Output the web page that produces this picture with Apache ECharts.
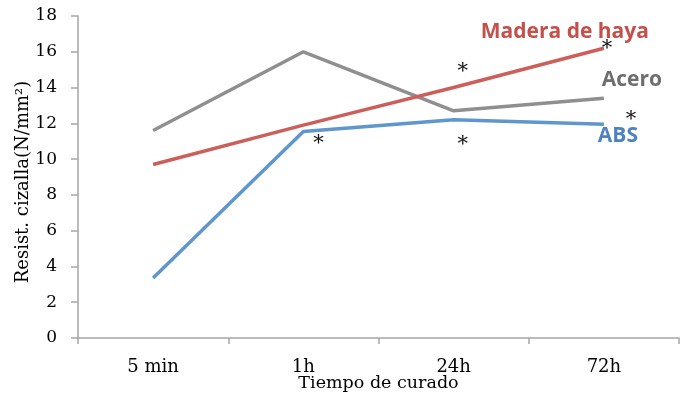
<!DOCTYPE html>
<html><head><meta charset="utf-8">
<script src="https://cdn.jsdelivr.net/npm/echarts@6/dist/echarts.min.js"></script>
<style>html,body{margin:0;padding:0;background:#fff}#c{width:690px;height:398px}</style>
</head><body><div id="c"></div>
<script>
const categories = ['5 min', '1h', '24h', '72h'];
const acero = [11.6, 16.0, 12.7, 13.4];
const madera = [9.7, 11.9, 14.0, 16.2];
const abs = [3.35, 11.55, 12.2, 11.95];
const yTicks = [0, 2, 4, 6, 8, 10, 12, 14, 16, 18];
// asterisk annotations: [category, value, xOffset]
const asterisks = [['1h', 11.0, 15], ['24h', 15.0, 9], ['24h', 10.95, 9], ['72h', 16.3, 3], ['72h', 12.35, 27]];

const chart = echarts.init(document.getElementById('c'), null, {renderer: 'canvas'});
const serif = '"DejaVu Serif", serif';
const sans = '"Open Sans", "Noto Sans", sans-serif';

function star(a) {
  return {coord: [a[0], a[1]], value: '*', label: {offset: [a[2], 2]}};
}
function nameMark(cat, val, dx, text, color) {
  return {coord: [cat, val], value: text, label: {offset: [dx, 0], color: color, fontFamily: sans, fontWeight: 'bold', fontSize: 21}};
}
const hidden = {symbol: 'circle', symbolSize: 1, itemStyle: {color: 'rgba(0,0,0,0)'},
  label: {show: true, position: 'inside', color: '#111', fontFamily: serif, fontSize: 21, formatter: p => p.value}};

chart.setOption({
  animation: false,
  grid: {left: 78, right: 11, top: 16, bottom: 60, containLabel: false, outerBoundsMode: 'none'},
  xAxis: {
    type: 'category', data: categories, boundaryGap: true,
    axisLine: {lineStyle: {color: '#a6a6a6', width: 1.5}},
    axisTick: {show: true, length: 6, lineStyle: {color: '#a6a6a6', width: 1.5}},
    axisLabel: {color: '#000', fontFamily: serif, fontSize: 18, margin: 20},
    name: 'Tiempo de curado', nameLocation: 'middle', nameGap: 36, nameMoveOverlap: false,
    nameTextStyle: {color: '#000', fontFamily: serif, fontSize: 17.5}
  },
  yAxis: {
    type: 'value', min: yTicks[0], max: yTicks[yTicks.length - 1], interval: 2,
    splitLine: {show: false},
    axisLine: {show: true, lineStyle: {color: '#a6a6a6', width: 1.5}},
    axisTick: {show: true, length: 7, lineStyle: {color: '#a6a6a6', width: 1.5}},
    axisLabel: {color: '#000', fontFamily: serif, fontSize: 17, margin: 21},
    name: 'Resist. cizalla(N/mm²)', nameLocation: 'middle', nameGap: 46, nameMoveOverlap: false,
    nameTextStyle: {color: '#000', fontFamily: serif, fontSize: 18, padding: [0, 10, 0, 0]}
  },
  series: [
    {name: 'Acero', type: 'line', data: acero, symbol: 'none', lineStyle: {color: '#8f8f8f', width: 3.5},
      markPoint: Object.assign({}, hidden, {data: [nameMark('72h', 14.4, 28, 'Acero', '#6e6e6e')]})},
    {name: 'Madera de haya', type: 'line', data: madera, symbol: 'none', lineStyle: {color: '#cc5f59', width: 3.5},
      markPoint: Object.assign({}, hidden, {data: [nameMark('72h', 17.1, -39, 'Madera de haya', '#c4504b')]})},
    {name: 'ABS', type: 'line', data: abs, symbol: 'none', lineStyle: {color: '#5e96cd', width: 3.5},
      markPoint: Object.assign({}, hidden, {data: [nameMark('72h', 11.3, 14, 'ABS', '#4f82c0')].concat(asterisks.map(star))})}
  ]
});
</script></body></html>
